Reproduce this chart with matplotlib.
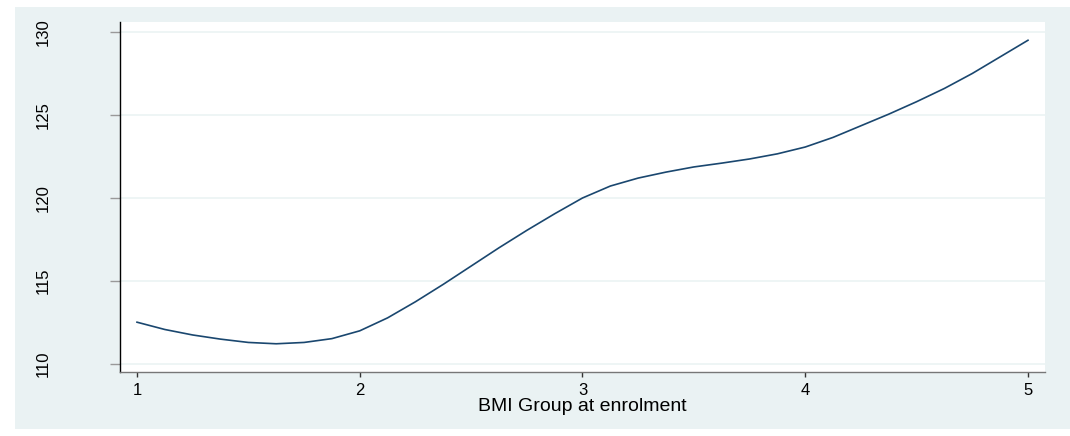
import matplotlib.pyplot as plt
from matplotlib.patches import Rectangle

plt.rcParams['font.family'] = ['Liberation Sans', 'DejaVu Sans']

bmi_group = [1.0, 1.125, 1.25, 1.375, 1.5, 1.625, 1.75, 1.875, 2.0,
             2.125, 2.25, 2.375, 2.5, 2.625, 2.75, 2.875, 3.0,
             3.125, 3.25, 3.375, 3.5, 3.625, 3.75, 3.875, 4.0,
             4.125, 4.25, 4.375, 4.5, 4.625, 4.75, 4.875, 5.0]
fitted = [112.52, 112.08, 111.75, 111.5, 111.3, 111.22, 111.3, 111.53, 112.0,
          112.78, 113.75, 114.8, 115.9, 117.0, 118.05, 119.05, 120.0,
          120.72, 121.2, 121.56, 121.87, 122.1, 122.35, 122.66, 123.07,
          123.65, 124.35, 125.05, 125.8, 126.6, 127.5, 128.5, 129.5]
x_ticks = [1, 2, 3, 4, 5]
y_ticks = [110, 115, 120, 125, 130]

W, H = 1070, 436
fig = plt.figure(figsize=(W / 100, H / 100), dpi=100, facecolor='white')
# light outer "graph region" like Stata's s2color scheme
fig.add_artist(Rectangle((15 / W, 7 / H), 1055 / W, 422 / H,
                         transform=fig.transFigure, facecolor='#eaf2f3',
                         edgecolor='none', zorder=-10))

ax = fig.add_axes([120 / W, 1 - 372 / H, 925 / W, 350 / H])
ax.set_zorder(1)
ax.set_facecolor('white')

ax.plot(bmi_group, fitted, color='#1a476f', lw=1.2, zorder=3)

ax.set_xlim(0.9237, 5.0764)
ax.set_ylim(109.52, 130.6)
ax.set_xticks(x_ticks)
ax.set_yticks(y_ticks)
ax.set_yticklabels([str(v) for v in y_ticks], rotation=90, va='center')
ax.grid(axis='y', color='#eaf2f3', lw=1.1)
ax.set_axisbelow(True)

for s in ['top', 'right']:
    ax.spines[s].set_visible(False)
ax.spines['left'].set_color('black')
ax.spines['left'].set_linewidth(1.0)
ax.spines['bottom'].set_color('#777777')
ax.spines['bottom'].set_linewidth(1.0)

ax.tick_params(axis='y', length=7.2, width=1.0, color='#999999', pad=43, labelsize=12)
ax.tick_params(axis='x', length=3.6, width=1.0, color='#333333', pad=4, labelsize=12)
ax.set_xlabel('BMI Group at enrolment', fontsize=14, labelpad=0)

fig.savefig('out.png', dpi=100)
